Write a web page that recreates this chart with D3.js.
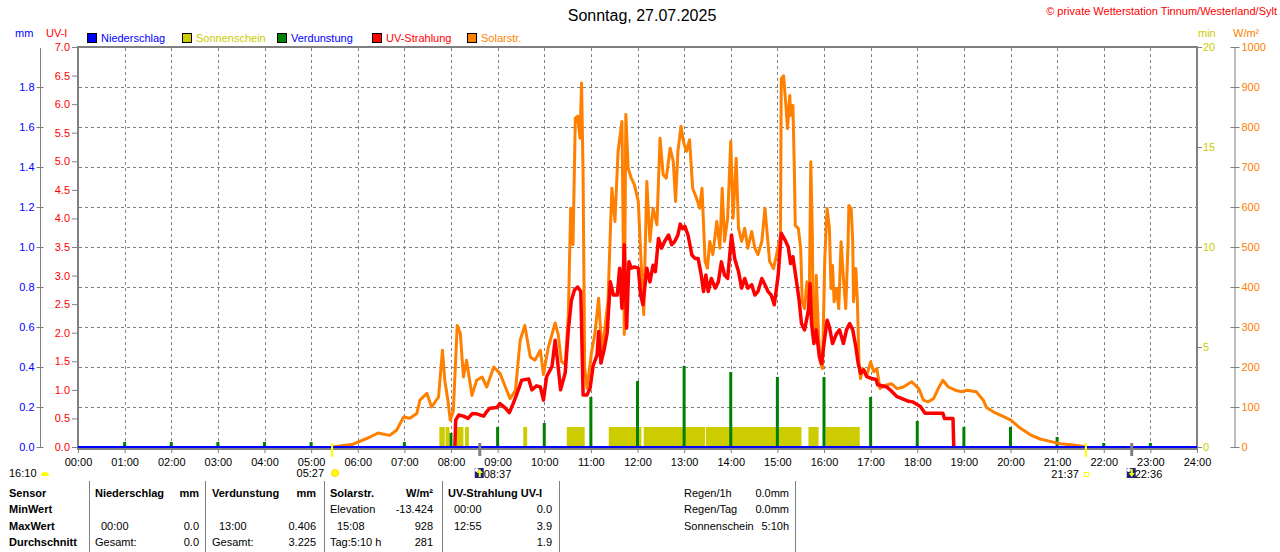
<!DOCTYPE html>
<html lang="de">
<head>
<meta charset="UTF-8">
<title>Sonntag, 27.07.2025</title>
<script src="https://cdn.jsdelivr.net/npm/d3@7"></script>
<style>
  body { margin: 0; background: #fff; }
  svg { display: block; font-family: "Liberation Sans", Arial, sans-serif; }
</style>
</head>
<body>
<script>
// ---- data ----
const title = "Sonntag, 27.07.2025";
const legendNames = ["Niederschlag", "Sonnenschein", "Verdunstung", "UV-Strahlung", "Solarstr."];

const hourTicks = d3.range(0, 25);
const mmTicks = [0, 0.2, 0.4, 0.6, 0.8, 1.0, 1.2, 1.4, 1.6, 1.8];
const uvTicks = d3.range(0, 7.01, 0.5);
const minTicks = [0, 5, 10, 15, 20];
const solTicks = d3.range(0, 1001, 100);

// Niederschlag (mm) - nothing fell
const rainTimes = ["00:00", "24:00"];
const rainValues = [0, 0];

// Verdunstung, hourly (mm)
const evapHours = d3.range(1, 24);
const evapValues = [0.025, 0.025, 0.025, 0.025, 0.025, 0, 0.025, 0.07, 0.10, 0.12, 0.25, 0.33,
                    0.406, 0.375, 0.35, 0.35, 0.25, 0.13, 0.10, 0.10, 0.05, 0.02, 0.02];

// Sonnenschein periods (1 min per minute)
const sunStart = ["07:45", "07:53", "08:06", "08:18", "09:33", "10:29", "11:23", "12:08", "13:28", "15:40", "16:02"];
const sunEnd   = ["07:52", "07:58", "08:16", "08:23", "09:38", "10:52", "12:05", "13:27", "15:31", "15:53", "16:46"];

// Solarstrahlung (W/m²)
const solarTimes = ["05:28","05:54","06:16","06:26","06:41","06:50","06:59","07:07","07:16","07:20","07:29","07:35",
  "07:44","07:49","07:52","07:56","07:59","08:03","08:08","08:12","08:16","08:20","08:27","08:33","08:40","08:46",
  "08:55","09:03","09:10","09:16","09:23","09:29","09:35","09:42","09:48","09:55","09:59","10:05","10:14","10:18",
  "10:22","10:27","10:31","10:34","10:37","10:40","10:43","10:46","10:48","10:50","10:52","10:55","11:01","11:05",
  "11:10","11:14","11:18","11:22","11:27","11:31","11:35","11:40","11:43","11:45","11:48","11:52","11:56","12:01",
  "12:05","12:08","12:12","12:16","12:20","12:25","12:29","12:33","12:37","12:42","12:46","12:49","12:52","12:56",
  "12:59","13:03","13:07","13:11","13:16","13:20","13:23","13:27","13:30","13:33","13:37","13:42","13:46","13:49",
  "13:52","13:56","14:00","14:03","14:07","14:10","14:14","14:18","14:22","14:27","14:31","14:35","14:40","14:44",
  "14:47","14:50","14:55","14:59","15:04","15:05","15:08","15:11","15:13","15:16","15:17","15:20","15:22","15:23",
  "15:27","15:30","15:32","15:35","15:38","15:41","15:43","15:45","15:46","15:49","15:50","15:53","15:55","15:58",
  "16:01","16:04","16:07","16:09","16:11","16:13","16:16","16:19","16:22","16:25","16:28","16:31","16:32","16:35",
  "16:37","16:38","16:41","16:43","16:45","16:47","16:50","16:55","17:00","17:04","17:08","17:12","17:18","17:27",
  "17:34","17:42","17:53","18:02","18:08","18:14","18:21","18:27","18:33","18:40","18:49","18:57","19:04","19:16",
  "19:25","19:29","19:38","19:51","20:00","20:12","20:25","20:38","20:51","21:04","21:21","21:32","21:36"];
const solarValues = [0,7,25,35,29,42,75,72,84,117,134,100,
  125,242,167,117,67,90,304,284,175,217,129,167,175,150,
  200,184,150,121,142,267,304,225,217,242,181,247,310,281,
  214,206,331,597,506,822,827,772,910,681,197,147,239,281,
  372,239,297,364,647,564,739,814,281,831,697,672,656,614,
  447,331,664,514,597,556,772,681,672,747,714,614,739,802,
  764,739,768,647,622,597,647,464,447,514,481,564,497,647,
  514,572,764,572,722,547,514,547,497,539,497,481,514,597,
  531,464,446,481,529,921,928,854,796,879,829,854,679,554,
  546,496,363,346,413,363,713,529,313,296,429,279,213,196,
  471,596,546,396,454,363,396,346,513,421,346,513,604,596,
  513,363,446,363,213,171,196,179,213,188,196,146,154,158,
  146,150,163,146,117,113,121,146,167,150,142,138,142,138,
  117,99,88,76,68,48,31,20,14,8,5,2,0];

// UV-Strahlung (UV-I)
const uvTimes = ["08:05","08:06","08:10","08:16","08:22","08:27","08:33","08:42","08:46","08:50","08:59","09:03",
  "09:10","09:15","09:20","09:25","09:31","09:40","09:44","09:50","09:55","09:59","10:03","10:10","10:14","10:17",
  "10:21","10:27","10:31","10:35","10:39","10:43","10:47","10:50","10:55","10:59","11:03","11:08","11:10","11:13",
  "11:17","11:21","11:25","11:29","11:34","11:37","11:40","11:43","11:46","11:49","11:52","11:56","12:01","12:04",
  "12:07","12:12","12:16","12:20","12:23","12:27","12:31","12:35","12:40","12:44","12:48","12:52","12:55","12:58",
  "13:01","13:05","13:10","13:14","13:18","13:22","13:25","13:28","13:31","13:35","13:40","13:44","13:48","13:52",
  "13:56","14:01","14:05","14:10","14:14","14:18","14:22","14:27","14:31","14:35","14:40","14:44","14:48","14:52",
  "14:56","15:01","15:05","15:10","15:14","15:17","15:20","15:25","15:28","15:31","15:35","15:40","15:42","15:44",
  "15:47","15:50","15:54","15:57","16:00","16:04","16:07","16:11","16:16","16:20","16:25","16:29","16:33","16:37",
  "16:41","16:44","16:47","16:51","16:55","17:01","17:07","17:09","17:21","17:25","17:34","17:49","17:54","18:04",
  "18:10","18:33","18:35","18:46","18:47"];
const uvValues = [0,0.47,0.56,0.54,0.50,0.58,0.58,0.54,0.62,0.68,0.69,0.76,
  0.68,0.60,0.76,0.94,1.17,1.19,1.00,1.07,1.05,0.82,1.23,1.41,1.87,1.52,
  1.00,1.30,2.05,2.57,2.75,2.80,2.72,0.91,0.91,1.03,1.43,1.61,2.02,1.47,
  1.70,2.00,2.89,2.66,2.66,3.13,2.43,3.54,2.08,3.24,3.13,3.15,3.13,2.66,
  2.49,3.13,2.89,3.18,3.07,3.65,3.48,3.60,3.71,3.54,3.60,3.71,3.90,3.82,
  3.86,3.71,3.36,3.30,3.30,3.01,2.72,3.01,2.72,2.95,2.78,2.89,3.24,3.01,
  2.95,3.71,3.30,3.07,2.78,2.95,2.78,2.84,2.66,2.72,2.95,2.84,2.72,2.66,
  2.49,3.00,3.74,3.62,3.50,3.21,3.33,2.86,2.57,2.16,2.05,2.40,2.86,2.16,
  1.81,2.05,1.58,1.46,1.81,2.22,2.10,1.81,1.98,2.05,1.81,2.05,2.16,2.05,
  1.75,1.46,1.29,1.35,1.23,1.20,1.18,1.09,1.05,1.00,0.88,0.80,0.79,0.71,
  0.59,0.59,0.50,0.50,0];

// sun / moon times
const dayLength = "16:10";
const sunrise = "05:27", sunset = "21:37";
const moonrise = "08:37", moonset = "22:36";

// statistics table
const statHead = ["Sensor", "Niederschlag", "mm", "Verdunstung", "mm", "Solarstr.", "W/m²", "UV-Strahlung UV-I"];
const statRows = ["MinWert", "MaxWert", "Durchschnitt"];
const rainStats = [["", ""], ["00:00", "0.0"], ["Gesamt:", "0.0"]];
const evapStats = [["", ""], ["13:00", "0.406"], ["Gesamt:", "3.225"]];
const solStats = [["Elevation", "-13.424"], ["15:08", "928"], ["Tag:5:10 h", "281"]];
const uvStats = [["00:00", "0.0"], ["12:55", "3.9"], ["", "1.9"]];
const sideNames = ["Regen/1h", "Regen/Tag", "Sonnenschein"];
const sideValues = ["0.0mm", "0.0mm", "5:10h"];

// ---- drawing ----
const width = 1280, height = 552;
const BLUE = "#0000ff", RED = "#ff0000", YEL = "#cccc00", GRN = "#008000", ORG = "#ff8000", GREY = "#808080";
const legendColors = [BLUE, YEL, GRN, RED, ORG];
const legendTextColors = [BLUE, YEL, BLUE, RED, ORG];

const toH = s => +s.slice(0, 2) + +s.slice(3) / 60;

const svg = d3.select("body").append("svg")
  .attr("width", width).attr("height", height);

const x = d3.scaleLinear().domain([0, 24]).range([78, 1197]);
const yUV = d3.scaleLinear().domain([0, 7]).range([447, 47]);
const yMM = d3.scaleLinear().domain([0, 2]).range([447, 47]);
const yMin = d3.scaleLinear().domain([0, 20]).range([447, 47]);
const ySol = d3.scaleLinear().domain([0, 1000]).range([447, 47]);

function text(xp, yp, s, color = "#000", anchor = "start", weight = "normal", size = 11) {
  return svg.append("text").attr("x", xp).attr("y", yp).text(s)
    .attr("fill", color).attr("text-anchor", anchor)
    .attr("font-weight", weight).attr("font-size", size);
}

// title + copyright
text(642, 21, title, "#000", "middle", "normal", 16);
text(1277, 15, "© private Wetterstation Tinnum/Westerland/Sylt", RED, "end");

// unit labels
text(15, 37, "mm", BLUE);
text(46, 37, "UV-I", RED);
text(1198, 37, "min", YEL);
text(1233, 37, "W/m²", ORG);

// legend
const leg = svg.append("g").selectAll("g").data(legendNames).join("g")
  .attr("transform", (d, i) => `translate(${87 + i * 95},33)`);
leg.append("rect").attr("x", 0.5).attr("y", 0.5).attr("width", 9).attr("height", 9)
  .attr("fill", (d, i) => legendColors[i]).attr("stroke", "#000");
leg.append("text").attr("x", 14).attr("y", 9).attr("font-size", 11)
  .attr("fill", (d, i) => legendTextColors[i]).text(d => d);

// grid
const grid = svg.append("g").attr("stroke", GREY).attr("stroke-dasharray", "3,3");
grid.selectAll(".h").data(solTicks.slice(1, -1)).join("line")
  .attr("x1", 79).attr("x2", 1196)
  .attr("y1", d => Math.round(ySol(d)) + 0.5).attr("y2", d => Math.round(ySol(d)) + 0.5);
grid.selectAll(".v").data(hourTicks.slice(1, -1)).join("line")
  .attr("y1", 48).attr("y2", 447)
  .attr("x1", d => Math.round(x(d)) + 0.5).attr("x2", d => Math.round(x(d)) + 0.5);

// Sonnenschein
svg.append("g").attr("fill", YEL).selectAll("rect").data(sunStart).join("rect")
  .attr("x", d => x(toH(d)))
  .attr("width", (d, i) => x(toH(sunEnd[i])) - x(toH(d)))
  .attr("y", yMin(1)).attr("height", yMin(0) - yMin(1));

// Verdunstung
svg.append("g").attr("fill", GRN).selectAll("rect").data(evapHours).join("rect")
  .attr("x", d => x(d) - 1.5).attr("width", 3)
  .attr("y", (d, i) => yMM(evapValues[i]))
  .attr("height", (d, i) => yMM(0) - yMM(evapValues[i]));

// Solarstrahlung
const solarData = solarTimes.map((t, i) => [toH(t), solarValues[i]]);
svg.append("path").datum(solarData)
  .attr("fill", "none").attr("stroke", ORG).attr("stroke-width", 3).attr("stroke-linejoin", "round")
  .attr("d", d3.line().x(d => x(d[0])).y(d => ySol(d[1])));

// UV
const uvData = uvTimes.map((t, i) => [toH(t), uvValues[i]]);
svg.append("path").datum(uvData)
  .attr("fill", "none").attr("stroke", RED).attr("stroke-width", 3.5).attr("stroke-linejoin", "round")
  .attr("d", d3.line().x(d => x(d[0])).y(d => yUV(d[1])));

// frame
svg.append("rect").attr("x", 78).attr("y", 47).attr("width", 1119).attr("height", 402)
  .attr("fill", "none").attr("stroke", GREY).attr("stroke-width", 2);

// Niederschlag (blue baseline)
const rainData = rainTimes.map((t, i) => [toH(t), rainValues[i]]);
svg.append("path").datum(rainData)
  .attr("fill", "none").attr("stroke", BLUE).attr("stroke-width", 2)
  .attr("d", d3.line().x(d => x(d[0])).y(d => yMM(d[1])));

// axes
function styleAxis(g, color) {
  g.attr("font-family", null).attr("font-size", 11);
  g.selectAll(".tick line").attr("stroke", GREY);
  g.selectAll(".tick text").attr("fill", color);
  g.select(".domain").attr("stroke", GREY);
}

const mmAxis = svg.append("g").attr("transform", "translate(40.5,0)")
  .call(d3.axisLeft(yMM).tickValues(mmTicks).tickFormat(d3.format(".1f")).tickSize(4).tickSizeOuter(0).tickPadding(2));
styleAxis(mmAxis, BLUE);
mmAxis.selectAll(".tick line").attr("x1", 3);
mmAxis.select(".domain").attr("d", `M0,${yMM(2) + 1}V${yMM(0)}`);

const uvAxis = svg.append("g").attr("transform", "translate(77,0)")
  .call(d3.axisLeft(yUV).tickValues(uvTicks).tickFormat(d3.format(".1f")).tickSize(5).tickPadding(2));
styleAxis(uvAxis, RED);
uvAxis.select(".domain").remove();

const minAxis = svg.append("g").attr("transform", "translate(1197,0)")
  .call(d3.axisRight(yMin).tickValues(minTicks).tickSize(5).tickPadding(1));
styleAxis(minAxis, YEL);
minAxis.select(".domain").remove();

const solAxis = svg.append("g").attr("transform", "translate(1234.5,0)")
  .call(d3.axisRight(ySol).tickValues(solTicks).tickFormat(d3.format("d")).tickSize(5).tickSizeOuter(0).tickPadding(2));
styleAxis(solAxis, ORG);
solAxis.selectAll(".tick line").attr("x1", -4);

const xAxis = svg.append("g").attr("transform", "translate(0,449)")
  .call(d3.axisBottom(x).tickValues(hourTicks).tickFormat(d => d3.format("02")(d) + ":00").tickSize(4).tickPadding(5));
styleAxis(xAxis, "#000");
xAxis.select(".domain").remove();

// sun and moon markers
const mk = svg.append("g");
[sunrise, sunset].forEach(t => {
  mk.append("line").attr("x1", x(toH(t))).attr("x2", x(toH(t))).attr("y1", 443).attr("y2", 457)
    .attr("stroke", "#ffff00").attr("stroke-width", 2);
});
[moonrise, moonset].forEach(t => {
  mk.append("line").attr("x1", x(toH(t))).attr("x2", x(toH(t))).attr("y1", 443).attr("y2", 456)
    .attr("stroke", GREY).attr("stroke-width", 3);
});

function moonIcon(cx, up) {
  mk.append("rect").attr("x", cx - 5).attr("y", 468).attr("width", 9).attr("height", 10).attr("fill", "#1a237e");
  mk.append("circle").attr("cx", cx - 3).attr("cy", 470).attr("r", 2).attr("fill", "#fff");
  mk.append("path").attr("fill", "#ffff00")
    .attr("d", up ? `M${cx},469l3,4h-2v4h-2v-4h-2z` : `M${cx},477l3,-4h-2v-4h-2v4h-2z`);
}

text(9, 477, dayLength);
mk.append("path").attr("d", "M41,476a4,4 0 0 1 8,0z").attr("fill", "#ffff00");

const xr = x(toH(sunrise));
text(xr - 8, 477, sunrise, "#000", "end");
mk.append("circle").attr("cx", xr + 3).attr("cy", 473).attr("r", 3.5).attr("fill", "#ffff00").attr("stroke", "#ffd000");

const xm = x(toH(moonrise));
moonIcon(xm, true);
text(xm + 4, 478, moonrise);

const xs = x(toH(sunset));
text(xs - 7, 478, sunset, "#000", "end");
mk.append("rect").attr("x", xs - 1.5).attr("y", 472.5).attr("width", 4).attr("height", 4)
  .attr("fill", "none").attr("stroke", "#ffff00");

const xo = x(toH(moonset));
moonIcon(xo, false);
text(xo + 3, 478, moonset);

// statistics table
const rowY = [497, 513, 530, 546];
[89, 205, 324, 442, 559, 795].forEach(px => {
  svg.append("line").attr("x1", px + 0.5).attr("x2", px + 0.5).attr("y1", 481).attr("y2", 552)
    .attr("stroke", GREY);
});
text(9, rowY[0], statHead[0], "#000", "start", "bold");
text(95, rowY[0], statHead[1], "#000", "start", "bold");
text(199, rowY[0], statHead[2], "#000", "end", "bold");
text(212, rowY[0], statHead[3], "#000", "start", "bold");
text(316, rowY[0], statHead[4], "#000", "end", "bold");
text(330, rowY[0], statHead[5], "#000", "start", "bold");
text(433, rowY[0], statHead[6], "#000", "end", "bold");
text(448, rowY[0], statHead[7], "#000", "start", "bold");

statRows.forEach((r, i) => {
  const yy = rowY[i + 1];
  text(9, yy, r, "#000", "start", "bold");
  text(rainStats[i][0] === "Gesamt:" ? 95 : 101, yy, rainStats[i][0]);
  text(199, yy, rainStats[i][1], "#000", "end");
  text(evapStats[i][0] === "Gesamt:" ? 212 : 219, yy, evapStats[i][0]);
  text(316, yy, evapStats[i][1], "#000", "end");
  text(i === 1 ? 337 : 330, yy, solStats[i][0]);
  text(433, yy, solStats[i][1], "#000", "end");
  text(454, yy, uvStats[i][0]);
  text(552, yy, uvStats[i][1], "#000", "end");
});
sideNames.forEach((s, i) => {
  text(684, rowY[i], s);
  text(789, rowY[i], sideValues[i], "#000", "end");
});
</script>
</body>
</html>
